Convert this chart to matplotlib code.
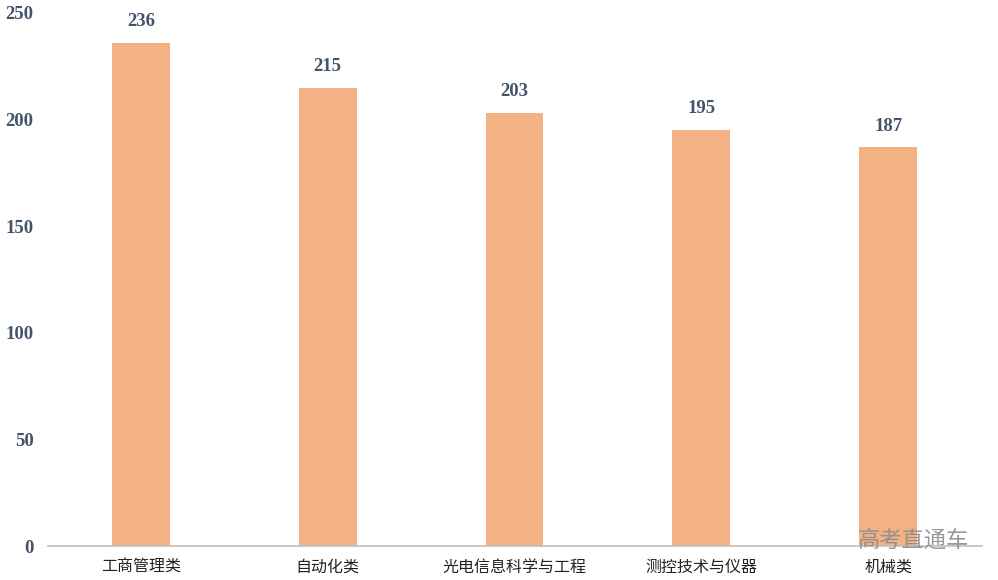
import matplotlib.pyplot as plt

plt.rcParams['font.family'] = ['Noto Sans CJK SC', 'DejaVu Sans']

majors = ["工商管理类", "自动化类", "光电信息科学与工程", "测控技术与仪器", "机械类"]
counts = [236, 215, 203, 195, 187]
yticks = [0, 50, 100, 150, 200, 250]

bar_color = "#F2B283"
num_color = "#44546A"

fig = plt.figure(figsize=(9.98, 5.8), dpi=100)
ax = fig.add_axes([0.0476, 0.0586, 0.9359, 0.919])

x = range(len(majors))
bars = ax.bar(x, counts, width=0.31, color=bar_color, zorder=2)

for b, v in zip(bars, counts):
    ax.text(b.get_x() + b.get_width() / 2, v + 6, str(v), ha="center", va="bottom",
            fontsize=13.5, fontweight="bold", family="Liberation Serif", color=num_color)

ax.set_xlim(-0.5, len(majors) - 0.5)
ax.set_ylim(0, 250)
ax.set_yticks(yticks)
ax.set_yticklabels([str(t) for t in yticks], family="Liberation Serif",
                   fontweight="bold", fontsize=13.5, color=num_color)
ax.set_xticks(list(x))
ax.set_xticklabels(majors, fontsize=11.5, color="#222222")
ax.tick_params(axis="both", length=0)
ax.tick_params(axis="y", pad=10)
ax.tick_params(axis="x", pad=9)

for side in ["top", "right", "left"]:
    ax.spines[side].set_visible(False)
ax.spines["bottom"].set_color("#BFBFBF")
ax.spines["bottom"].set_linewidth(1.2)

fig.text(0.915, 0.068, "高考直通车", ha="center", va="center", fontsize=16,
         color="#8C8C8C", alpha=0.9)

fig.savefig("out.png", dpi=100)
